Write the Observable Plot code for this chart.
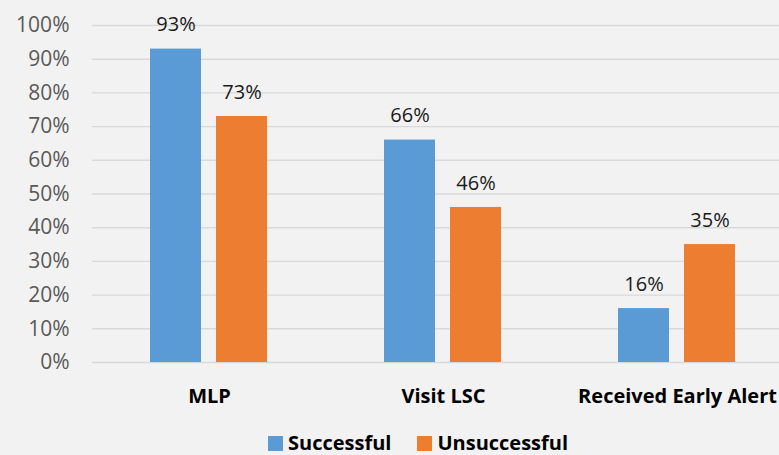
<!DOCTYPE html>
<html>
<head>
<meta charset="utf-8">
<script src="https://cdn.jsdelivr.net/npm/d3@7"></script>
<script src="https://cdn.jsdelivr.net/npm/@observablehq/plot@0.6"></script>
<style>
  html, body { margin: 0; padding: 0; background: #f2f2f2; width: 779px; height: 455px; overflow: hidden; font-family: "Open Sans", sans-serif; }
  #chart { position: absolute; left: 0; top: 0; }
  g[aria-label="fx-axis"] text, g[aria-label="fx-axis tick label"] text { font-weight: bold; fill: #000; }
  #legend { position: absolute; left: 268px; top: 434px; display: flex; align-items: center; font: bold 20px "Open Sans", sans-serif; line-height: 18px; color: #000; }
  .item { display: flex; align-items: center; margin-right: 26px; }
  .sw { width: 15px; height: 15px; margin-right: 5px; }
</style>
</head>
<body>
<div id="chart"></div>
<div id="legend"></div>
<script>
const categories = ["MLP", "Visit LSC", "Received Early Alert"];
const seriesNames = ["Successful", "Unsuccessful"];
const successful = [93, 66, 16];
const unsuccessful = [73, 46, 35];
const yTicks = [0, 10, 20, 30, 40, 50, 60, 70, 80, 90, 100];
const colors = ["#5b9bd5", "#ed7d31"];

const data = [];
categories.forEach((c, i) => {
  data.push({category: c, series: seriesNames[0], value: successful[i]});
  data.push({category: c, series: seriesNames[1], value: unsuccessful[i]});
});

const chart = Plot.plot({
  width: 779,
  height: 430,
  marginTop: 25,
  marginBottom: 68,
  marginLeft: 91,
  marginRight: 0,
  style: {background: "transparent", fontFamily: "Open Sans, sans-serif", fontSize: "20px", overflow: "visible"},
  fx: {domain: categories, range: [91, 794.5], paddingInner: 0, paddingOuter: 0, axis: "bottom", tickSize: 0, tickPadding: 26, label: null},
  x: {domain: seriesNames, paddingInner: 0.224, paddingOuter: 0.862, axis: null},
  y: {domain: [0, 100], ticks: yTicks, tickFormat: d => d + "%", tickSize: 0, tickPadding: 23, label: null},
  color: {domain: seriesNames, range: colors},
  marks: [
    Plot.ruleY(yTicks, {stroke: "#d9d9d9", strokeWidth: 1.4}),
    Plot.barY(data, {fx: "category", x: "series", y: "value", fill: "series"}),
    Plot.text(data, {fx: "category", x: "series", y: "value", text: d => d.value + "%", dy: -24, fill: "#1a1a1a", fontSize: 20})
  ]
});
chart.querySelectorAll('g[aria-label="y-axis"] text, g[aria-label="y-axis tick label"] text').forEach(t => { t.setAttribute("fill", "#595959"); t.setAttribute("font-size", "21"); });
document.getElementById("chart").appendChild(chart);

const legend = document.getElementById("legend");
seriesNames.forEach((s, i) => {
  const item = document.createElement("div");
  item.className = "item";
  const sw = document.createElement("div");
  sw.className = "sw";
  sw.style.background = colors[i];
  const lab = document.createElement("span");
  lab.textContent = s;
  item.appendChild(sw);
  item.appendChild(lab);
  legend.appendChild(item);
});
</script>
</body>
</html>
